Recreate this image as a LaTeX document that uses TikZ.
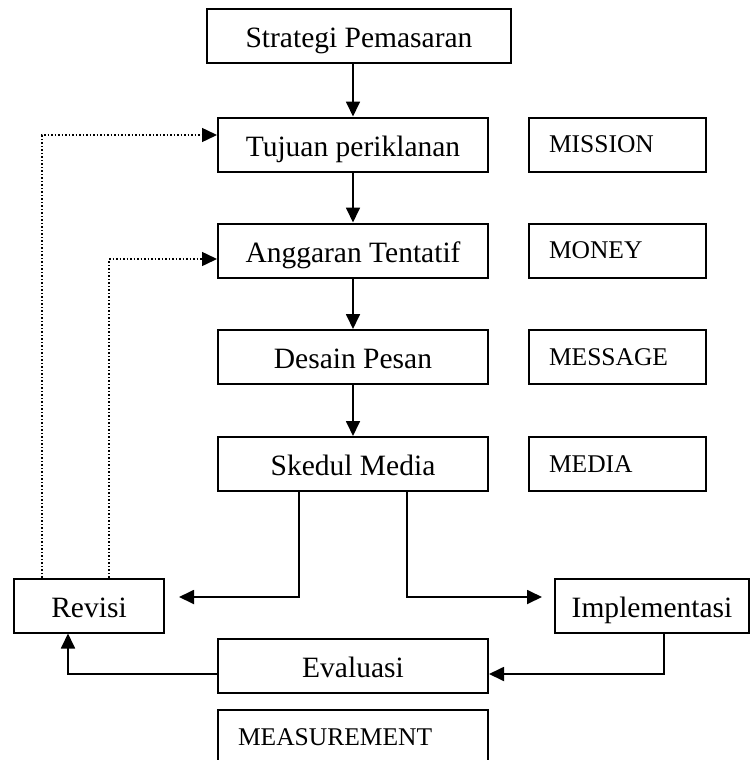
\documentclass[tikz,border=0pt]{standalone}
\usepackage{fontspec}
\setmainfont{Liberation Serif}
\usetikzlibrary{arrows.meta,arrows}
\usetikzlibrary{positioning}

\begin{document}
\begin{tikzpicture}[x=1pt,y=-1pt]
                \useasboundingbox (0,0) rectangle (750,760);

                \begin{scope}[every node/.style={rectangle, draw, line width=2pt, inner sep=0pt,
                    minimum height=54pt, text height=23pt, text depth=0pt,
                    font=\fontsize{29.5}{34}\selectfont}]
                    \node[minimum width=304pt] (strategi) at (359, 36.5) {Strategi Pemasaran};
                    \node[minimum width=270pt] (tujuan) at (353, 144.5) {Tujuan periklanan};
                    \node[minimum width=270pt] (anggaran) at (353, 250.5) {Anggaran Tentatif};
                    \node[minimum width=270pt] (desain) at (353, 357) {Desain Pesan};
                    \node[minimum width=270pt] (skedul) at (353, 464) {Skedul Media};
                    \node[minimum width=150pt] (revisi) at (89, 605.5) {Revisi};
                    \node[minimum width=194pt] (implementasi) at (652, 605.5) {Implementasi};
                    \node[minimum width=270pt] (evaluasi) at (353, 666) {Evaluasi};
                \end{scope}

                \begin{scope}[every node/.style={rectangle, draw, line width=2pt, inner xsep=20pt,
                    minimum height=54pt, text height=16pt, text depth=0pt, align=left,
                    font=\fontsize{25.5}{30}\selectfont}]
                    \node[text width=137pt] (mission) at (617.5, 144.5) {MISSION};
                    \node[text width=137pt] (money) at (617.5, 250.5) {MONEY};
                    \node[text width=137pt] (message) at (617.5, 357) {MESSAGE};
                    \node[text width=137pt] (media) at (617.5, 464) {MEDIA};
                    \node[text width=230pt] (measurement) at (353, 737) {MEASUREMENT};
                \end{scope}

                \begin{scope}[>={Triangle[length=15pt, width=14pt]}, line width=1.8pt]
                    \path [->] (tujuan.north |- strategi.south) edge (tujuan.north);
                    \path [->] (tujuan) edge (anggaran);
                    \path [->] (anggaran) edge (desain);
                    \path [->] (desain) edge (skedul);
                    \draw [->, shorten >=14pt] ([xshift=-54pt]skedul.south) |- ([yshift=8.5pt]revisi.east);
                    \draw [->, shorten >=12pt] ([xshift=54pt]skedul.south) |- ([yshift=8.5pt]implementasi.west);
                    \draw [->] ([xshift=12pt]implementasi.south) |- ([yshift=-8pt]evaluasi.east);
                    \draw [->] ([yshift=-8pt]evaluasi.west) -| ([xshift=-21pt]revisi.south);
                \end{scope}

                \begin{scope}[>={Triangle[length=15pt, width=14pt]}, line width=1.5pt,
                    dash pattern=on 1.5pt off 2pt]
                    \draw [->] ([xshift=-47pt]revisi.north) |- ([yshift=9.5pt]tujuan.west);
                    \draw [->] ([xshift=20pt]revisi.north) |- ([yshift=-8.5pt]anggaran.west);
                \end{scope}
            \end{tikzpicture}
\end{document}
